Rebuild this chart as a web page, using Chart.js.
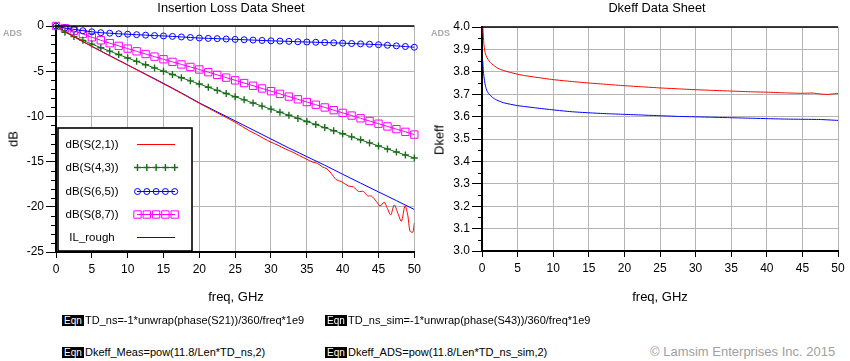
<!DOCTYPE html>
<html>
<head>
<meta charset="utf-8">
<script src="https://cdn.jsdelivr.net/npm/chart.js@4/dist/chart.umd.min.js"></script>
<style>
  html, body { margin: 0; padding: 0; background: #fff; }
  #wrap { position: relative; width: 850px; height: 361px; overflow: hidden; font-family: "Liberation Sans", Arial, sans-serif; color: #000; }
  canvas { position: absolute; top: 0; }
  .t { position: absolute; white-space: nowrap; line-height: 1; }
  .ctr { transform: translate(-50%, -50%); }
  .ads { font-size: 9px; font-weight: bold; color: #a8a8a8; }
  .eqn { position: absolute; background: #000; color: #fff; font-size: 10px; line-height: 11px; height: 11px; padding: 0 2px; }
  .eq { font-size: 11px; }
</style>
</head>
<body>
<div id="wrap">
  <canvas id="c1" width="425" height="300" style="left:0"></canvas>
  <canvas id="c2" width="425" height="300" style="left:425px"></canvas>

  <div class="t ctr" style="left:231px; top:8px; font-size:12.8px;">Insertion Loss Data Sheet</div>
  <div class="t ctr" style="left:657px; top:8px; font-size:12.8px;">Dkeff Data Sheet</div>
  <div class="t ads" style="left:3px; top:29px;">ADS</div>
  <div class="t ads" style="left:431px; top:29px;">ADS</div>
  <div class="t ctr" style="left:236px; top:296px; font-size:13px;">freq, GHz</div>
  <div class="t ctr" style="left:660px; top:296px; font-size:13px;">freq, GHz</div>
  <div class="t ctr" style="left:13px; top:139px; font-size:13px; transform: translate(-50%,-50%) rotate(-90deg);">dB</div>
  <div class="t ctr" style="left:439px; top:140px; font-size:13px; transform: translate(-50%,-50%) rotate(-90deg);">Dkeff</div>

  <div class="eqn" style="left:62px; top:315px;">Eqn</div>
  <div class="t eq" style="left:85px; top:315px;">TD_ns=-1*unwrap(phase(S21))/360/freq*1e9</div>
  <div class="eqn" style="left:325px; top:315px;">Eqn</div>
  <div class="t eq" style="left:348px; top:315px;">TD_ns_sim=-1*unwrap(phase(S43))/360/freq*1e9</div>
  <div class="eqn" style="left:62px; top:347px;">Eqn</div>
  <div class="t eq" style="left:85px; top:347px;">Dkeff_Meas=pow(11.8/Len*TD_ns,2)</div>
  <div class="eqn" style="left:325px; top:347px;">Eqn</div>
  <div class="t eq" style="left:348px; top:347px;">Dkeff_ADS=pow(11.8/Len*TD_ns_sim,2)</div>
  <div class="t" style="left:650px; top:345px; font-size:13px; color:#a0a0a0;">© Lamsim Enterprises Inc. 2015</div>
</div>

<script>
// ---------- DATA ----------
const markerFreq = [0,1.25,2.5,3.75,5,6.25,7.5,8.75,10,11.25,12.5,13.75,15,16.25,17.5,18.75,20,21.25,22.5,23.75,25,26.25,27.5,28.75,30,31.25,32.5,33.75,35,36.25,37.5,38.75,40,41.25,42.5,43.75,45,46.25,47.5,48.75,50];
const s43 = [0,-0.70,-1.17,-1.59,-2.00,-2.40,-2.78,-3.16,-3.54,-3.91,-4.28,-4.64,-5.00,-5.36,-5.72,-6.07,-6.42,-6.77,-7.12,-7.47,-7.82,-8.17,-8.51,-8.86,-9.20,-9.54,-9.88,-10.22,-10.56,-10.90,-11.24,-11.58,-11.92,-12.26,-12.59,-12.93,-13.27,-13.60,-13.94,-14.27,-14.60];
const s65 = [0,-0.22,-0.37,-0.52,-0.64,-0.74,-0.80,-0.86,-0.91,-0.96,-1.01,-1.06,-1.10,-1.15,-1.21,-1.27,-1.33,-1.37,-1.40,-1.44,-1.48,-1.52,-1.56,-1.60,-1.64,-1.67,-1.70,-1.74,-1.77,-1.80,-1.83,-1.86,-1.90,-1.94,-1.98,-2.02,-2.07,-2.13,-2.20,-2.27,-2.35];
const s87 = [0,-0.25,-0.55,-0.88,-1.25,-1.58,-1.90,-2.20,-2.50,-2.80,-3.10,-3.39,-3.68,-3.97,-4.25,-4.53,-4.81,-5.11,-5.41,-5.71,-6.01,-6.31,-6.61,-6.91,-7.21,-7.51,-7.81,-8.11,-8.41,-8.71,-9.01,-9.31,-9.61,-9.91,-10.21,-10.51,-10.81,-11.11,-11.41,-11.71,-12.01];

const ilFreq = [0,2.5,5,7.5,10,12.5,15,17.5,20,22.5,25,27.5,30,32.5,35,37.5,40,42.5,45,47.5,50];
const ilRough = [0,-1.19,-2.25,-3.28,-4.30,-5.32,-6.34,-7.40,-8.50,-9.50,-10.50,-11.50,-12.50,-13.50,-14.45,-15.40,-16.40,-17.38,-18.35,-19.32,-20.30];

const s21Freq = [0,2.5,5,7.5,10,12.5,15,17.5,20,22.5,25,27,28,29,30,31,32,33,34,35,35.8,36.5,37.2,37.8,38.4,39.1,39.8,40.8,41.5,42.2,42.9,43.5,44.0,44.7,45.2,45.8,46.2,46.7,47.2,47.7,48.2,48.7,49.1,49.4,49.8,50];
const s21 = [0,-1.19,-2.26,-3.30,-4.32,-5.36,-6.40,-7.45,-8.55,-9.60,-10.65,-11.60,-12.00,-12.45,-12.85,-13.20,-13.60,-13.95,-14.35,-14.75,-15.05,-15.20,-15.60,-15.80,-16.30,-17.00,-17.20,-17.70,-17.80,-18.30,-18.30,-18.80,-18.80,-19.40,-19.90,-19.50,-20.10,-20.90,-19.80,-20.70,-21.60,-19.90,-21.00,-22.70,-22.80,-21.80];

const dkMeasFreq = [0.05,0.15,0.25,0.4,0.6,0.85,1.2,1.6,2.0,2.5,3.0,4.0,5.0,6.0,7.5,10,12.5,15,17.5,20,22.5,25,27.5,30,32.5,35,37.5,40,42.5,45,46.5,47.5,48.5,49.5,50];
const dkMeas = [4.05,3.98,3.93,3.89,3.87,3.855,3.84,3.83,3.82,3.812,3.806,3.797,3.789,3.783,3.776,3.765,3.757,3.750,3.744,3.738,3.733,3.728,3.724,3.720,3.717,3.714,3.711,3.709,3.706,3.704,3.705,3.701,3.699,3.702,3.703];
const dkAdsFreq = [0.1,0.2,0.35,0.5,0.7,1.0,1.5,2.0,2.5,3.0,4.0,5.0,6.0,7.5,10,12.5,15,17.5,20,22.5,25,27.5,30,32.5,35,37.5,40,42.5,45,47.5,50];
const dkAds = [3.85,3.80,3.76,3.735,3.715,3.70,3.685,3.675,3.668,3.662,3.655,3.649,3.645,3.639,3.630,3.622,3.617,3.613,3.610,3.607,3.604,3.601,3.599,3.597,3.595,3.593,3.591,3.589,3.588,3.587,3.583];

const legendLabels = ['dB(S(2,1))','dB(S(4,3))','dB(S(6,5))','dB(S(8,7))','IL_rough'];

// ---------- helpers ----------
const pts = (xs, ys) => xs.map((x, i) => ({ x, y: ys[i] }));
const FONT = '"Liberation Sans", Arial, sans-serif';

const framePlugin = {
  id: 'frame',
  afterDraw(chart, args, o) {
    const { ctx, chartArea: a, scales: { y } } = chart;
    ctx.save();
    ctx.strokeStyle = '#000';
    ctx.lineWidth = 1.5;
    ctx.beginPath();
    ctx.moveTo(a.left - 1, a.top);
    ctx.lineTo(a.right, a.top);
    ctx.stroke();
    ctx.lineWidth = 1;
    const n = Math.round((y.max - y.min) / o.minor);
    for (let i = 0; i <= n; i++) {
      const v = y.min + i * o.minor;
      const r = v / o.major;
      if (Math.abs(r - Math.round(r)) < 1e-6) continue;
      const py = Math.round(y.getPixelForValue(v)) + 0.5;
      ctx.beginPath();
      ctx.moveTo(a.left - o.minorLen, py);
      ctx.lineTo(a.left, py);
      ctx.stroke();
    }
    ctx.restore();
  }
};

const legendPlugin = {
  id: 'ilLegend',
  afterDraw(chart, args, o) {
    if (!o.show) return;
    const { ctx } = chart;
    ctx.save();
    ctx.fillStyle = '#fff';
    ctx.fillRect(58, 128, 134, 123);
    ctx.strokeStyle = '#000';
    ctx.lineWidth = 1.6;
    ctx.strokeRect(58, 128, 134, 123);
    ctx.font = '11.5px ' + FONT;
    ctx.textAlign = 'center';
    ctx.textBaseline = 'middle';
    chart.data.datasets.forEach((ds, i) => {
      const yy = Math.round(144 + i * 23.3) + 0.5;
      ctx.fillStyle = '#000';
      ctx.fillText(ds.label, 92, yy);
      ctx.strokeStyle = ds.borderColor;
      ctx.lineWidth = 1;
      ctx.beginPath();
      ctx.moveTo(137, yy);
      ctx.lineTo(175, yy);
      ctx.stroke();
      if (ds.pointRadius > 0) {
        for (let k = 0; k < 5; k++) {
          ctx.fillStyle = 'rgba(0,0,0,0)';
          ctx.strokeStyle = ds.borderColor;
          ctx.lineWidth = ds.pointBorderWidth;
          Chart.helpers.drawPoint(ctx, {
            pointStyle: ds.pointStyle, radius: ds.pointRadius, rotation: 0,
            borderWidth: ds.pointBorderWidth
          }, 137.5 + k * 9.3, yy);
        }
      }
    });
    ctx.restore();
  }
};

function baseScales(cfg) {
  return {
    x: {
      type: 'linear', min: 0, max: 50,
      ticks: { stepSize: 5, color: '#000', font: { family: FONT, size: 12 }, padding: 4, maxRotation: 0, autoSkip: false },
      grid: { color: '#b4b4b4', lineWidth: 1, tickColor: '#000', tickLength: 6, tickWidth: 1 },
      border: { color: '#000', width: 2 },
      afterFit(s) { s.height = cfg.xh; }
    },
    y: {
      type: 'linear', min: cfg.ymin, max: cfg.ymax,
      ticks: { stepSize: cfg.step, color: '#000', font: { family: FONT, size: 12 }, padding: 2, callback: cfg.fmt },
      grid: { color: '#b4b4b4', lineWidth: 1, tickColor: '#000', tickLength: 10, tickWidth: 1 },
      border: { color: '#000', width: 2 },
      afterFit(s) { s.width = cfg.yw; }
    }
  };
}

Chart.defaults.font.family = FONT;

// ---------- left chart ----------
new Chart(document.getElementById('c1'), {
  type: 'line',
  data: {
    datasets: [
      { label: legendLabels[0], data: pts(s21Freq, s21), borderColor: '#ff0000', borderWidth: 1, pointRadius: 0, tension: 0.3 },
      { label: legendLabels[1], data: pts(markerFreq, s43), borderColor: '#1a6e1a', borderWidth: 1, pointStyle: 'cross', pointRadius: 3.5, pointBorderWidth: 1.4, pointBorderColor: '#1a6e1a', pointBackgroundColor: 'rgba(0,0,0,0)', clip: false },
      { label: legendLabels[2], data: pts(markerFreq, s65), borderColor: '#0000ff', borderWidth: 1, pointStyle: 'circle', pointRadius: 3, pointBorderWidth: 1, pointBorderColor: '#0000ff', pointBackgroundColor: 'rgba(0,0,0,0)', clip: false },
      { label: legendLabels[3], data: pts(markerFreq, s87), borderColor: '#ff00ff', borderWidth: 1, pointStyle: 'rect', pointRadius: 5.2, pointBorderWidth: 1, pointBorderColor: '#ff00ff', pointBackgroundColor: 'rgba(0,0,0,0)', clip: false },
      { label: legendLabels[4], data: pts(ilFreq, ilRough), borderColor: '#0000ff', borderWidth: 1, pointRadius: 0 }
    ]
  },
  options: {
    responsive: false, animation: false, events: [],
    layout: { padding: { left: 0, top: 26, right: 9, bottom: 0 } },
    plugins: { legend: { display: false }, tooltip: { enabled: false }, title: { display: false },
               frame: { minor: 1, major: 5, minorLen: 5 }, ilLegend: { show: true } },
    scales: baseScales({ xh: 48, yw: 56, ymin: -25, ymax: 0, step: 5, fmt: v => String(v) })
  },
  plugins: [framePlugin, legendPlugin]
});

// ---------- right chart ----------
new Chart(document.getElementById('c2'), {
  type: 'line',
  data: {
    datasets: [
      { label: 'Dkeff_Meas', data: pts(dkMeasFreq, dkMeas), borderColor: '#ff0000', borderWidth: 1, pointRadius: 0, tension: 0.2 },
      { label: 'Dkeff_ADS', data: pts(dkAdsFreq, dkAds), borderColor: '#0000ff', borderWidth: 1, pointRadius: 0, tension: 0.2 }
    ]
  },
  options: {
    responsive: false, animation: false, events: [],
    layout: { padding: { left: 0, top: 27, right: 12, bottom: 0 } },
    plugins: { legend: { display: false }, tooltip: { enabled: false }, title: { display: false },
               frame: { minor: 0.05, major: 0.1, minorLen: 4 }, ilLegend: { show: false } },
    scales: baseScales({ xh: 49, yw: 57, ymin: 3.0, ymax: 4.0, step: 0.1, fmt: v => Number(v).toFixed(1) })
  },
  plugins: [framePlugin, legendPlugin]
});
</script>
</body>
</html>
